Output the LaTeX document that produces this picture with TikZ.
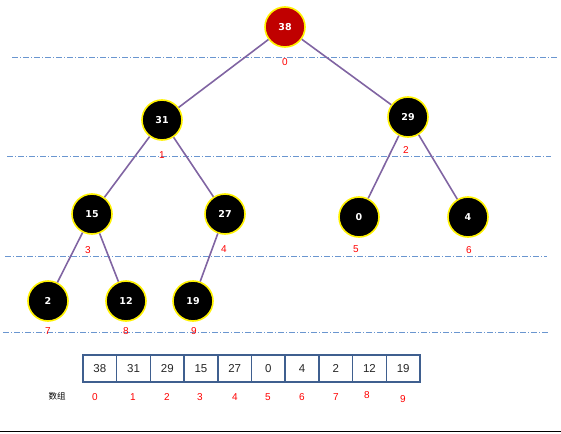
\documentclass[tikz,border=0pt]{standalone}
\usepackage{fontspec}
\setmainfont{Liberation Sans}
\newfontfamily\cjk{Noto Sans CJK SC}
\newfontfamily\dvs{DejaVu Sans}
\begin{document}
\begin{tikzpicture}[x=1pt,y=-1pt,
  hnode/.style={circle,draw=yellow,line width=1.6pt,fill=black,minimum size=40pt,inner sep=0pt,text=white,font=\dvs\bfseries\fontsize{9.5}{10}\selectfont},
  rootnode/.style={hnode,fill=rootred},
  idx/.style={text=red,font=\fontsize{10}{11}\selectfont,inner sep=0pt},
  edge/.style={draw=edgec,line width=1.6pt},
  level/.style={draw=linec,line width=0.8pt,dash pattern=on 6pt off 2pt on 1pt off 2pt},
  cell/.style={draw=cellc,line width=1.5pt,minimum width=33.7pt,minimum height=27pt,inner sep=0pt,font=\fontsize{11.5}{12}\selectfont,text=black!85}]
\definecolor{rootred}{HTML}{C00000}
\definecolor{edgec}{HTML}{8064A2}
\definecolor{linec}{HTML}{6A96D0}
\definecolor{cellc}{HTML}{3F5F8F}
\useasboundingbox (0,0) rectangle (561,433);
% level lines
\coordinate (l1a) at (12,57); \coordinate (l1b) at (557,57);
\coordinate (l2a) at (7,156); \coordinate (l2b) at (551,156);
\coordinate (l3a) at (5,256); \coordinate (l3b) at (547,256);
\coordinate (l4a) at (3,332); \coordinate (l4b) at (549,332);
\draw[level] (l1a) -- (l1b);
\draw[level] (l2a) -- (l2b);
\draw[level] (l3a) -- (l3b);
\draw[level] (l4a) -- (l4b);
% nodes
\node[rootnode] (n0) at (285,27) {38};
\node[hnode] (n1) at (162,120) {31};
\node[hnode] (n2) at (408,117) {29};
\node[hnode] (n3) at (92,214) {15};
\node[hnode] (n4) at (225,214) {27};
\node[hnode] (n5) at (359,217) {0};
\node[hnode] (n6) at (468,217) {4};
\node[hnode] (n7) at (48,301) {2};
\node[hnode] (n8) at (126,301) {12};
\node[hnode] (n9) at (193,301) {19};
% edges
\draw[edge] (n0) -- (n1);
\draw[edge] (n0) -- (n2);
\draw[edge] (n1) -- (n3);
\draw[edge] (n1) -- (n4);
\draw[edge] (n2) -- (n5);
\draw[edge] (n2) -- (n6);
\draw[edge] (n3) -- (n7);
\draw[edge] (n3) -- (n8);
\draw[edge] (n4) -- (n9);
% index labels
\node[idx] (i0) at (285,62) {0};
\node[idx] (i1) at (162,155) {1};
\node[idx] (i2) at (406,150) {2};
\node[idx] (i3) at (88,250) {3};
\node[idx] (i4) at (224,249) {4};
\node[idx] (i5) at (356,249) {5};
\node[idx] (i6) at (469,250) {6};
\node[idx] (i7) at (48,331) {7};
\node[idx] (i8) at (126,331) {8};
\node[idx] (i9) at (194,331) {9};
% array
\foreach \v [count=\i from 0] in {38,31,29,15,27,0,4,2,12,19} {
  \node[cell] (c\i) at ({83+33.7*\i+16.85},368.5) {\v};
}
\node[font=\cjk\fontsize{8.5}{9}\selectfont,inner sep=0pt] (arr) at (57,396) {数组};
\node[idx] (a0) at (95,397) {0};
\node[idx] (a1) at (133,397) {1};
\node[idx] (a2) at (167,397) {2};
\node[idx] (a3) at (200,397) {3};
\node[idx] (a4) at (235,397) {4};
\node[idx] (a5) at (268,397) {5};
\node[idx] (a6) at (302,397) {6};
\node[idx] (a7) at (336,397) {7};
\node[idx] (a8) at (367,395) {8};
\node[idx] (a9) at (403,399) {9};
% bottom line
\coordinate (b1) at (0,431.5); \coordinate (b2) at (561,431.5);
\draw[line width=1.2pt] (b1) -- (b2);
\end{tikzpicture}
\end{document}
